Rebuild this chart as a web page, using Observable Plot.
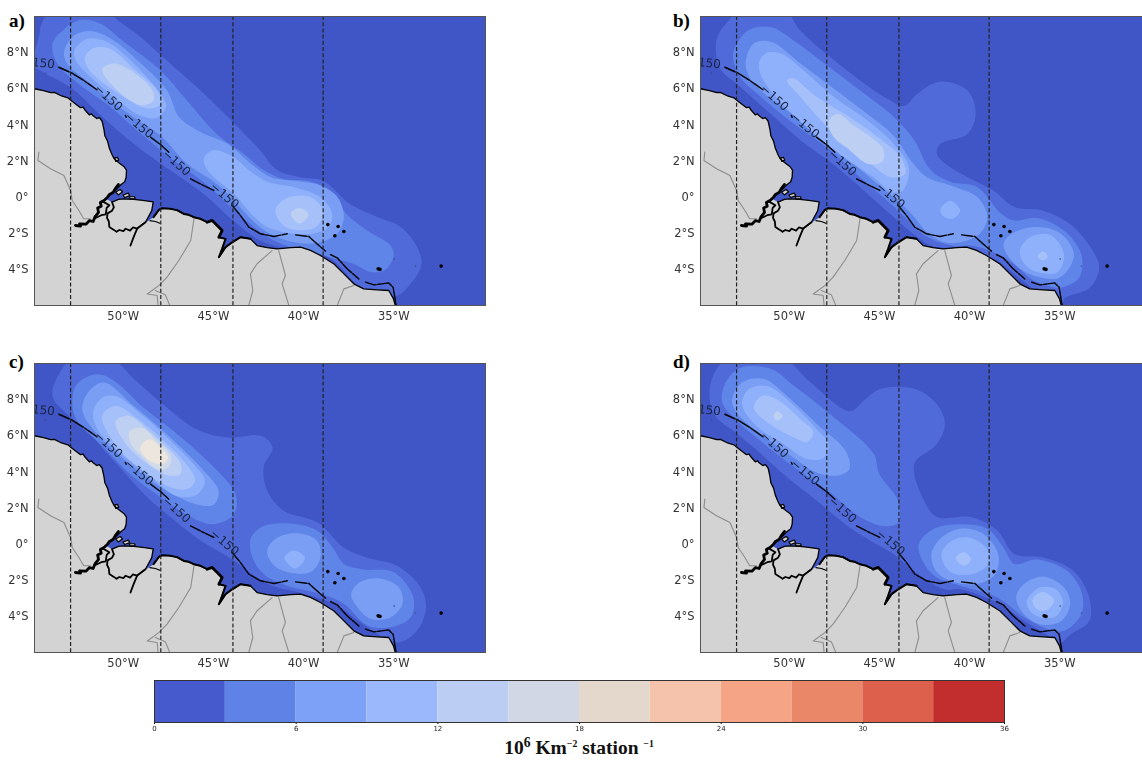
<!DOCTYPE html>
<html><head><meta charset="utf-8">
<script src="https://cdn.jsdelivr.net/npm/d3@7"></script>
<script src="https://cdn.jsdelivr.net/npm/@observablehq/plot@0.6"></script>
<style>
html,body{margin:0;padding:0;background:#fff;overflow:hidden;width:1142px;height:760px}
#page{position:relative;width:1142px;height:760px;overflow:hidden}
.panel{position:absolute;width:500px}
.panel svg{max-width:none;filter:blur(.35px)}
.tag{position:absolute;font:bold 19px "Liberation Serif",serif;color:#000;line-height:1}
#unit{position:absolute;left:354px;width:450px;top:737px;text-align:center;font:bold 19.5px "Liberation Serif",serif;color:#111;line-height:1.1}
#unit sup{font-size:70%;line-height:0}
#unit sup.s{font-size:50%}
</style></head><body><div id="page"></div>
<script>
// ---- scales and ticks ----
const lonDomain=[-55,-30], latDomain=[-6,10];
const lonTicks=[-50,-45,-40,-35], latTicks=[-4,-2,0,2,4,6,8];
const sectionLons=[-53,-48,-44,-39];
const mapLevels=[2.25,4.5,6.75,9,11.25,13.5,15.75,18];
const mapColors=["#4056c6","#506bd9","#5f85e8","#7a9ef4","#8fb1fb","#a6c1fa","#bdd0f3","#d3dae8","#ece6de"];
const legendEdges=[0,3,6,9,12,15,18,21,24,27,30,33,36];
const legendColors=["#4659cd","#5e82e6","#7ea1f8","#9cb8fd","#bbcdf3","#d2d7e6","#e4d8cd","#f5c3ab","#f5a585","#ea8768","#dd604c","#c22e2e"];
const legendTicks=[0,6,12,18,24,30,36];

// ---- base map (lon, lat) ----
const northCoast=[[-55.5,6.05],[-55,6],[-54.5,5.9],[-54.1,5.78],[-53.9,5.8],[-53.5,5.6],[-53.15,5.5],[-52.9,5.3],[-52.45,4.95],[-52.3,4.98],[-52.2,4.82],[-51.95,4.55],[-51.85,4.62],[-51.75,4.5],[-51.55,4.35],[-51.4,4.4],[-51.25,4.2],[-51.15,3.75],[-51.1,3.4],[-50.95,3.1],[-50.85,2.7],[-50.7,2.35],[-50.6,2.15],[-50.45,2],[-50.25,1.85],[-50.05,1.7],[-49.9,1.5],[-49.92,1.1],[-50,0.85],[-50.2,0.7],[-50.45,0.45],[-50.7,0.2],[-50.9,0.05],[-51,-0.1]];
const marajoNorth=[[-50.7,-0.28],[-50.35,-0.12],[-50.06,-0.1],[-49.5,-0.13],[-49,-0.18],[-48.42,-0.26],[-48.5,-0.75],[-48.85,-1.39],[-49.31,-1.74]];
const paraEastBank=[[-48.4,-1.11],[-48.1,-0.7],[-47.95,-0.62]];
const mainCoast=[[-47.46,-0.65],[-47.1,-0.72],[-46.72,-0.93],[-46.45,-0.98],[-46.17,-1.11],[-45.8,-1.2],[-45.43,-1.39],[-45.15,-1.29],[-44.87,-1.57],[-44.6,-1.85],[-44.78,-2.22],[-44.41,-2.31],[-44.6,-2.86],[-44.78,-3.33],[-44.41,-2.77],[-44.04,-2.5],[-43.58,-2.22],[-43.03,-2.31],[-42.66,-2.68],[-42.1,-2.8],[-41.55,-2.87],[-40.8,-2.8],[-40.25,-2.77],[-39.7,-2.95],[-39.15,-3.23],[-38.4,-3.7],[-37.85,-4.25],[-37.3,-4.8],[-36.75,-5.08],[-36,-5.13],[-35.36,-5.17],[-35.1,-5.63],[-35,-6]];
const landCorners=[[-35,-6.5],[-55.5,-6.5]];
const marajoSouth=[[-49.31,-1.74],[-49.55,-1.68],[-49.7,-1.85],[-49.95,-1.75],[-50.07,-1.88],[-50.3,-1.82],[-50.45,-1.92],[-50.62,-1.8],[-50.85,-1.65],[-50.88,-1.35],[-50.98,-1.15],[-50.95,-0.9],[-50.7,-0.75],[-50.6,-0.56],[-50.7,-0.28]];
const deltaWest=[[-52.73,-1.57],[-52.45,-1.6],[-52.5,-1.48],[-52.15,-1.5],[-51.95,-1.3],[-51.75,-1.35],[-51.65,-1.1],[-51.45,-0.85],[-51.5,-0.6],[-51.3,-0.5],[-51.35,-0.3],[-51.1,-0.15],[-50.95,0],[-50.85,0.15],[-50.65,0.25],[-50.5,0.5],[-50.35,0.7]];
const deltaInner=[[-51.7,-1.2],[-51.3,-1],[-51.05,-0.95],[-51,-0.6],[-50.85,-0.45],[-51.2,-0.25]];
const paraTail=[[-48.85,-1.39],[-49.31,-1.74],[-49.5,-2.2],[-49.68,-2.68]];
const paraBranch=[[-48.6,-1.3],[-48.3,-1.35],[-48.05,-1.45]];
const islandRings=[
 [[-50.55,2.18],[-50.4,2.2],[-50.33,2.05],[-50.5,1.98]],
 [[-50.5,0.28],[-50.25,0.42],[-50.12,0.3],[-50.35,0.12]],
 [[-50.1,0.12],[-49.8,0.22],[-49.72,0.08],[-50,-0.02]],
 [[-49.75,0.02],[-49.45,0.02],[-49.42,-0.1],[-49.7,-0.1]]
];
const borderA=[[-54.76,2.49],[-54.81,2.03],[-54.11,1.57],[-53.37,1.2],[-53,0.37],[-52.91,-0.19],[-52.54,-0.74],[-52.27,-1.2],[-51.9,-1.2]];
const borderB=[[-46.16,-1.2],[-46.34,-2.4],[-47,-3.51],[-47.65,-4.43],[-48.11,-4.9],[-48.75,-5.36],[-48.2,-5.45],[-48.15,-6]];
const borderB2=[[-48.3,-5.17],[-47.75,-5.4],[-47.5,-6]];
const borderC=[[-41.83,-2.96],[-42.66,-3.69],[-43.03,-4.25],[-42.9,-5.17],[-43.12,-6]];
const borderD=[[-41.46,-2.96],[-41.09,-4.34],[-41.27,-4.8],[-40.9,-6]];
const borderE=[[-37.3,-4.89],[-37.85,-5.08],[-38.22,-6]];
const isobathA=[[-53.65,7.19],[-52.91,6.86],[-52.27,6.46],[-51.53,5.94]];
const isobathB=[[-49.96,4.52],[-49.92,4.42]];
const isobathC=[[-48.57,3.32],[-48.02,2.91],[-47.55,2.49]];
const isobathD=[[-46.35,1.01],[-45.8,0.73],[-45.06,0.37]];
const isobathE=[[-44.04,-0.47],[-43.58,-1.02],[-43.12,-1.66],[-42.47,-2.03],[-41.73,-2.18],[-40.99,-2.03]];
const isobathF=[[-40.53,-2.09],[-39.79,-2.18],[-39.33,-2.59],[-38.87,-2.99]];
const isobathG=[[-38.59,-3.18],[-38.22,-3.36],[-37.67,-3.97],[-37.02,-4.53]];
const isobathH=[[-36.65,-4.71],[-36.19,-4.86],[-35.36,-4.75],[-35.12,-4.99],[-35.03,-5.54],[-34.95,-6]];
const isleLons=[-38.74,-38.17,-37.85,-38.35,-35.95,-35.85,-32.46];
const isleLats=[-1.52,-1.63,-1.9,-2.14,-3.97,-4,-3.82];
const faintIsleLons=[-35.06,-33.88,-54.39];
const faintIsleLats=[-3.42,-3.82,6.86];
const contourLabelLons=[-54.78,-50.9,-49.2,-47.13,-44.46];
const contourLabelLats=[7.44,5.5,3.97,1.9,0.09];
const contourLabelAngles=[6,42,40,42,40];

// ---- panel a density outlines (lon, lat) ----
const a1=[[-54.76,8.86],[-54.6,9.6],[-54.1,10.3],[-51,10.3],[-50.4,9.8],[-49.1,8.85],[-48,7.85],[-45.8,5.9],[-44,4.15],[-42.5,2.6],[-41.55,1.5],[-40.25,1.1],[-39,0.9],[-37.5,-0.4],[-36,-1.1],[-34.7,-1.65],[-33.8,-2.75],[-33.55,-3.7],[-34.15,-4.8],[-34.9,-5.45],[-35.6,-5.35],[-36.9,-5],[-38.75,-3.3],[-41.2,-2.8],[-42.5,-2.4],[-44,-1.3],[-45.4,0],[-46.9,1.1],[-48,1.85],[-49.5,2.95],[-51.3,4.5],[-52.9,6],[-54.5,6.9],[-55.05,7.3]];
const a2=[[-54,8.5],[-53.35,9.3],[-52.45,9.8],[-51.35,9.6],[-50.05,8.6],[-48,7],[-46.55,5.35],[-44.9,3.5],[-43.4,2.4],[-42.3,1.5],[-41.2,1],[-39.9,0.9],[-38.6,0.35],[-37.7,-0.95],[-36.55,-1.85],[-35.25,-2.7],[-35.1,-3.3],[-35.6,-4.05],[-36.35,-4.15],[-37.3,-3.7],[-38.4,-3.4],[-39.5,-3.05],[-40.6,-2.85],[-42.1,-2.2],[-44,-0.65],[-45.4,0.65],[-46.9,1.75],[-48,2.6],[-49.5,3.85],[-50.8,5],[-52.65,6.35],[-53.75,7.4]];
const a3=[[-53.35,8.1],[-52.8,8.95],[-51.9,9.2],[-50.8,8.8],[-49.1,7.4],[-47.65,5.9],[-47,4.45],[-45.8,3.6],[-44.3,2.95],[-43,1.85],[-41.9,1.1],[-40.6,0.9],[-39.15,0.65],[-38.2,0],[-37.85,-1.1],[-38.2,-2],[-39.15,-2.5],[-40.6,-2.5],[-42.1,-1.95],[-43.2,-1],[-44.1,0],[-45.05,0.85],[-46.55,1.85],[-48,3.4],[-49.1,4.15],[-50.8,5.35],[-52.25,6.55],[-53.2,7.4]];
const a4n=[[-52.8,8.1],[-52.1,8.75],[-51,8.6],[-49.5,7.4],[-48,5.7],[-47.7,5],[-48.2,4.4],[-49.1,4.5],[-50.6,5.55],[-52.1,6.85],[-52.7,7.55]];
const a4e=[[-45.6,2.2],[-45.05,2.6],[-43.95,2.2],[-43,1.4],[-42.1,0.85],[-40.6,0.55],[-39.15,0],[-38.5,-0.9],[-38.7,-1.65],[-39.5,-2],[-40.8,-2],[-42.1,-1.65],[-43,-0.9],[-43.95,0.2],[-45.05,1.1],[-45.5,1.65]];
const a5n=[[-52.2,7.75],[-51.7,8.25],[-50.8,8.2],[-49.5,7.1],[-48.2,5.9],[-48,5.15],[-48.75,4.9],[-50.6,5.9],[-52,7.1]];
const a5e=[[-41.65,-0.75],[-41,-0.05],[-39.7,0],[-39,-0.75],[-39.4,-1.65],[-41,-1.7]];
const a6n=[[-51.25,7.1],[-50.5,7.4],[-48.55,6.05],[-48.4,5.35],[-49.1,5.1],[-50.6,6.1]];
const a6e=[[-40.8,-0.9],[-40.25,-0.6],[-39.8,-1],[-40.35,-1.45]];

// ---- panel b ----
const b1=[[-54.15,8.5],[-53.9,9.2],[-53.25,10.05],[-53.25,10.4],[-50.4,10.4],[-49.45,9.2],[-46.85,7],[-44.65,5.45],[-43.7,5.05],[-43,5.7],[-41.7,6.4],[-40.2,5.9],[-39.75,4.6],[-40.2,3.5],[-41.7,2.95],[-41.9,2.4],[-41.3,1.75],[-40.2,1.1],[-38.75,0.35],[-37.6,-0.55],[-36,-0.75],[-34.5,-1.5],[-33.4,-2.75],[-32.9,-3.9],[-33.4,-5],[-34.75,-5.55],[-35.05,-5.9],[-36.15,-5.35],[-37.6,-4.25],[-38.75,-3.4],[-40.6,-2.85],[-42.05,-2.75],[-43,-2.2],[-44.3,-1.1],[-46.15,0.55],[-47.95,2.05],[-49.45,3.15],[-51.1,4.6],[-52.95,6.25],[-53.9,7.1]];
const b2=[[-53.2,7.85],[-52.9,8.65],[-52.25,9.3],[-51.1,9.4],[-49.8,8.65],[-48,7.3],[-46.15,5.9],[-44.3,4.45],[-43.15,3.15],[-42.25,1.5],[-41.15,0.85],[-39.65,0.55],[-38.35,-0.9],[-37.6,-1.3],[-36.35,-1.15],[-34.85,-1.85],[-33.9,-3.15],[-34,-4.45],[-34.95,-5],[-35.6,-4.95],[-36.7,-4.5],[-37.6,-3.7],[-38.75,-3.05],[-39.85,-2.7],[-40.95,-2.7],[-42.45,-2.2],[-43.35,-1.4],[-44.65,-0.2],[-46.15,1.1],[-47.95,2.7],[-49.8,4.05],[-51.65,5.55],[-52.8,6.65]];
const b3m=[[-52.5,7.45],[-52.05,8.5],[-51.1,8.6],[-49.45,7.4],[-47.6,6],[-45.75,4.6],[-44.3,3.4],[-43.2,1.85],[-42.45,1.1],[-41.15,0.65],[-39.65,0],[-39.1,-1.1],[-39.5,-2],[-40.6,-2.5],[-41.5,-2.5],[-42.45,-1.95],[-43.15,-1.1],[-43.9,-0.35],[-46.15,1.55],[-47.95,3.15],[-49.8,4.5],[-51.65,5.9],[-52.3,6.65]];
const b3s=[[-38.2,-2.6],[-37.6,-1.95],[-36.35,-1.65],[-35.05,-2],[-34.3,-3.15],[-34.65,-4.05],[-35.2,-4.5],[-36.5,-4.35],[-37.6,-3.7]];
const b4m=[[-51.75,7.45],[-51.4,7.95],[-50.55,7.95],[-49.1,6.85],[-47.6,5.55],[-45.75,4.25],[-44.3,2.95],[-43.45,1.65],[-43.8,0.35],[-44.45,0.3],[-45.4,1.1],[-47.05,2.2],[-49.1,3.85],[-50.95,5.7],[-51.65,6.75]];
const b4e=[[-41.7,-0.65],[-41.15,-0.2],[-40.6,-0.75],[-41.05,-1.2],[-41.6,-1]];
const b4s=[[-37.3,-2.95],[-36.7,-2.2],[-35.6,-2.1],[-34.85,-3.15],[-35.2,-4.15],[-36.35,-4.15],[-37.05,-3.7]];
const b5m=[[-50.2,6.45],[-49.9,6.6],[-48.55,5.55],[-46.85,4.5],[-45.4,3.5],[-43.9,2.2],[-43.65,1.3],[-44.45,1.1],[-45.75,2],[-47.6,3.5],[-49.45,5.55]];
const b5s=[[-36.3,-3.3],[-36,-3],[-35.75,-3.3],[-36,-3.5]];
const b6=[[-47.9,4.15],[-47.4,4.6],[-46.5,3.95],[-45.4,3.2],[-44.85,2.6],[-44.95,1.95],[-45.75,1.85],[-46.85,2.7],[-47.6,3.3]];

// ---- panel c ----
const c1=[[-54,8.2],[-53.65,9.4],[-53,10.15],[-50.6,10.15],[-49.5,9.15],[-47.65,7.55],[-46,6.35],[-44.3,5.9],[-42.45,6],[-41.8,5.35],[-42.3,4.25],[-42.1,2.95],[-41.2,1.85],[-39.3,1.2],[-37.85,-0.2],[-36.55,-0.75],[-34.9,-1.2],[-33.6,-2.4],[-33.3,-3.5],[-33.8,-4.8],[-34.9,-5.45],[-36.55,-4.6],[-38.4,-3.3],[-40.25,-2.7],[-42.1,-2.2],[-43.95,-0.9],[-45.8,0.2],[-47.65,1.65],[-48.75,2.6],[-50.4,4.4],[-52.1,6.25],[-53.2,7.2]];
const c2n=[[-52.9,7.75],[-52.65,8.85],[-51.55,9.4],[-50.6,9.05],[-48.95,7.55],[-47.1,6.1],[-44.85,4.05],[-43.85,2.75],[-43.95,1.65],[-45.05,1.1],[-46.35,1.5],[-48,2.6],[-49.5,3.7],[-51.35,5.55],[-52.65,6.85]];
const c2e=[[-43,0.35],[-42.3,1],[-41,1.15],[-39.35,0.75],[-38.4,-0.3],[-37.85,-1.1],[-36.75,-1.4],[-35.1,-1.55],[-34,-2.95],[-34.15,-4.05],[-35.25,-4.6],[-36.55,-4.5],[-37.85,-3.3],[-39.15,-2.75],[-41,-2.3],[-42.3,-1.65],[-42.95,-0.65]];
const c3n=[[-52.35,7.65],[-51.95,8.5],[-51.15,8.95],[-49.5,7.65],[-47.85,6.25],[-45.6,4.05],[-44.8,2.95],[-45.05,2.2],[-46,2.2],[-48,3.15],[-49.5,4.25],[-51.35,5.9],[-52.25,7.1]];
const c3e=[[-42.1,-0.35],[-41.55,0.35],[-40.45,0.6],[-39.35,0.2],[-39.15,-0.75],[-39.7,-1.55],[-41,-1.55],[-41.8,-1.1]];
const c3s=[[-37.45,-2.75],[-36.95,-2.1],[-35.85,-1.9],[-34.8,-2.4],[-34.6,-3.3],[-35.25,-4.05],[-36.35,-4.15],[-37.1,-3.5]];
const c4n=[[-51.75,7.3],[-51.25,8.1],[-50.5,8.2],[-49.1,7.2],[-47.65,5.9],[-46.15,4.4],[-45.55,3.5],[-46,2.75],[-47.1,2.65],[-48.55,3.7],[-50.2,5],[-51.5,6.35]];
const c4e=[[-41.15,-0.75],[-40.65,-0.35],[-40,-0.75],[-40.55,-1.35]];
const c5=[[-51.25,7.1],[-50.5,7.65],[-49.1,6.8],[-47.65,5.55],[-46.45,4.25],[-46.1,3.5],[-46.55,3.05],[-47.45,3.15],[-48.95,4.05],[-50.4,5.35]];
const c6=[[-50.5,6.8],[-49.75,7.1],[-48.75,6.35],[-47.45,5.15],[-46.9,4.45],[-46.9,3.9],[-47.55,3.8],[-48.75,4.45],[-50.05,5.7]];
const c7=[[-49.75,6.2],[-49.1,6.45],[-48.2,5.7],[-47.45,4.9],[-47.55,4.25],[-48.2,4.15],[-49.1,4.9],[-49.65,5.55]];
const c8=[[-49.15,5.35],[-48.65,5.8],[-48,5.35],[-47.6,4.8],[-47.85,4.45],[-48.4,4.5],[-48.95,4.9]];

// ---- panel d ----
const d1=[[-54.45,7.75],[-54.45,8.85],[-54.1,9.7],[-53.5,10.25],[-50.4,10.25],[-48.9,8.95],[-46.7,7.35],[-45.95,7.95],[-45,8.6],[-43.15,8.6],[-41.9,7.75],[-41.45,6.65],[-41.9,5.55],[-43.15,4.45],[-42.6,2.4],[-41.9,1.5],[-40,1.5],[-38.55,0.75],[-37.6,-0.55],[-35.95,-0.75],[-34.3,-1.5],[-33.45,-2.95],[-33.45,-4.25],[-34.5,-5],[-35.05,-5.45],[-35.8,-5],[-37.05,-4.25],[-38.75,-3.15],[-40.6,-2.5],[-41.5,-2.5],[-43.15,-1.5],[-44.3,-0.55],[-45.6,0.2],[-46.85,1],[-48.55,2.4],[-50.2,3.7],[-52.05,5.35],[-53.15,6.25],[-54.1,7]];
const d2n=[[-53.8,7.85],[-53.6,8.95],[-52.8,9.75],[-51.1,9.7],[-49.8,8.75],[-47.95,7.3],[-45.4,5],[-45.1,3.9],[-44.05,2.4],[-44.05,1.2],[-44.85,1],[-46.15,1.5],[-47.95,2.95],[-49.8,4.25],[-51.65,5.7],[-52.95,6.8]];
const d2e=[[-42.9,0],[-42.05,0.85],[-40.6,1.1],[-39.1,0.85],[-38.2,-0.2],[-37.6,-1.1],[-36.35,-0.85],[-34.65,-1.5],[-33.85,-2.75],[-33.9,-3.9],[-34.85,-4.8],[-35.75,-4.7],[-37.05,-4.05],[-38.55,-2.95],[-40.6,-2.3],[-41.9,-1.85],[-42.6,-1.1]];
const d3n=[[-53.25,7.95],[-52.7,8.95],[-51.5,9.15],[-50.2,8.2],[-48.55,6.65],[-46.95,5.15],[-46.75,4.15],[-47.4,3.8],[-48.55,3.95],[-49.85,4.8],[-51.65,6.1],[-52.85,7.1]];
const d3e=[[-42.2,-0.55],[-41.65,0.35],[-40.6,0.85],[-39.3,0.55],[-38.5,-0.55],[-38.65,-1.65],[-39.65,-2.2],[-40.95,-2.1],[-41.9,-1.55]];
const d3s=[[-37.5,-2.95],[-37.05,-2.2],[-35.95,-1.8],[-34.85,-2.4],[-34.5,-3.3],[-35,-4.25],[-36.15,-4.45],[-37.05,-3.9]];
const d4n=[[-52.7,7.75],[-52.3,8.6],[-51.3,8.75],[-49.8,7.65],[-48.55,6.35],[-47.9,5.55],[-48.15,4.8],[-49.05,4.7],[-50.4,5.55],[-51.9,6.55]];
const d4e=[[-41.65,-0.55],[-41.05,0.2],[-40.05,0.35],[-39.05,-0.35],[-39.05,-1.1],[-39.9,-1.65],[-41.15,-1.55]];
const d4s=[[-36.9,-3.1],[-36.2,-2.4],[-35.3,-2.5],[-34.9,-3.2],[-35.3,-4],[-36.3,-4],[-36.8,-3.6]];
const d5n=[[-52.05,7.55],[-51.6,8.2],[-50.75,8],[-49.45,6.9],[-48.75,6.2],[-49.1,5.65],[-49.8,5.9],[-51.3,6.75]];
const d5e=[[-40.85,-0.75],[-40.4,-0.45],[-40,-0.85],[-40.4,-1.2]];
const d5s=[[-36.6,-3.1],[-36.05,-2.65],[-35.4,-3.1],[-35.8,-3.65],[-36.35,-3.6]];
const d6=[[-50.95,7.1],[-50.75,7.35],[-50.45,7.1],[-50.75,6.85]];

// outlines per panel, lowest band first: [band number, outline]
const panelA=[[1,a1],[2,a2],[3,a3],[4,a4n],[4,a4e],[5,a5n],[5,a5e],[6,a6n],[6,a6e]];
const panelB=[[1,b1],[2,b2],[3,b3m],[3,b3s],[4,b4m],[4,b4e],[4,b4s],[5,b5m],[5,b5s],[6,b6]];
const panelC=[[1,c1],[2,c2n],[2,c2e],[3,c3n],[3,c3e],[3,c3s],[4,c4n],[4,c4e],[5,c5],[6,c6],[7,c7],[8,c8]];
const panelD=[[1,d1],[2,d2n],[2,d2e],[3,d3n],[3,d3e],[3,d3s],[4,d4n],[4,d4e],[4,d4s],[5,d5n],[5,d5e],[5,d5s],[6,d6]];

// ---- build ----
const landRing=[...northCoast,...marajoNorth,...paraEastBank,...mainCoast,...landCorners];
const coastThin=[northCoast,marajoNorth,paraEastBank,mainCoast];
const coastBold=[paraEastBank.concat(mainCoast.slice(0,7)),mainCoast.slice(10,18)];
const coastHeavy=[deltaWest,mainCoast.slice(6,11)];
const rows=(list,id)=>list.flatMap((l,i)=>l.map(p=>({lon:p[0],lat:p[1],k:id+i})));
const bandRows=list=>list.flatMap(([lev,pts],i)=>pts.map(p=>({lon:p[0],lat:p[1],k:i,v:mapLevels[lev-1]})));
const fmtLon=d=>`${-d}°W`;
const fmtLat=d=>d===0?"0°":d>0?`${d}°N`:`${-d}°S`;
const clip={clip:"frame"};
const lineOf=(list,o)=>Plot.line(rows(list,"s"),{x:"lon",y:"lat",z:"k",fill:"none",curve:"linear",...clip,...o});

function makePanel(list,tag,left,top,tagTop){
  const svg=Plot.plot({
    width:500,height:330,marginLeft:34,marginRight:15,marginTop:16,marginBottom:25,
    x:{domain:lonDomain,label:null},y:{domain:latDomain,label:null},
    color:{type:"threshold",domain:mapLevels,range:mapColors},
    style:{fontFamily:"'DejaVu Sans',sans-serif",background:"transparent"},
    marks:[
      Plot.frame({fill:mapColors[0],stroke:"none"}),
      Plot.line(bandRows(list),{x:"lon",y:"lat",z:"k",fill:"v",stroke:"none",curve:"catmull-rom-closed",...clip}),
      Plot.line(landRing.map(p=>({lon:p[0],lat:p[1]})),{x:"lon",y:"lat",fill:"#d3d3d3",stroke:"none",...clip}),
      lineOf([borderA,borderB,borderB2,borderC,borderD,borderE],{stroke:"#8d8d8d",strokeWidth:1.1}),
      lineOf(islandRings,{stroke:"#000",strokeWidth:1.2,fill:"#d3d3d3",curve:"linear-closed"}),
      lineOf(coastThin,{stroke:"#000",strokeWidth:1.3}),
      lineOf([marajoSouth,paraTail,deltaInner],{stroke:"#000",strokeWidth:1.8}),
      lineOf(coastBold,{stroke:"#000",strokeWidth:2}),
      lineOf(coastHeavy,{stroke:"#000",strokeWidth:2.8}),
      lineOf([paraBranch],{stroke:"#000",strokeWidth:1.2}),
      lineOf([isobathA,isobathB,isobathC,isobathD,isobathE,isobathF,isobathG,isobathH],{stroke:"#000",strokeWidth:1.4,strokeDasharray:"11,1.5,3,1.2"}),
      Plot.dot(isleLons.map((d,i)=>({lon:d,lat:isleLats[i]})),{x:"lon",y:"lat",r:1.8,fill:"#000",stroke:"none"}),
      Plot.dot(faintIsleLons.map((d,i)=>({lon:d,lat:faintIsleLats[i]})),{x:"lon",y:"lat",r:.9,fill:"#3a4a80",stroke:"none",fillOpacity:.7}),
      Plot.ruleX(sectionLons,{stroke:"#222",strokeWidth:1.2,strokeDasharray:"4,2.2"}),
      Plot.text(contourLabelLons.map((d,i)=>({lon:d,lat:contourLabelLats[i],a:contourLabelAngles[i]})),{x:"lon",y:"lat",text:()=>"−150",rotate:"a",fontSize:12,fill:"#1a2440",...clip}),
      Plot.axisX({ticks:lonTicks,tickSize:0,tickPadding:6,dx:-1.5,tickFormat:fmtLon,fontSize:11.5,fill:"#333",label:null}),
      Plot.axisY({ticks:latTicks,tickSize:0,tickPadding:6,tickFormat:fmtLat,fontSize:11.5,fill:"#333",label:null}),
      Plot.frame({stroke:"#555",strokeWidth:1})
    ]
  });
  const box=document.createElement("div");
  box.className="panel";box.style.left=left+"px";box.style.top=top+"px";
  box.appendChild(svg);
  const t=document.createElement("div");
  t.className="tag";t.textContent=tag;t.style.left=(left?7:9)+"px";t.style.top=tagTop+"px";
  box.appendChild(t);
  document.getElementById("page").appendChild(box);
}
makePanel(panelA,"a)",0,0,11);
makePanel(panelB,"b)",666,0,11);
makePanel(panelC,"c)",0,347,5);
makePanel(panelD,"d)",666,347,5);

// colour bar
const legend=Plot.plot({
  width:890,height:60,marginLeft:20,marginRight:20,marginTop:1,marginBottom:17,
  x:{domain:[0,36],label:null},y:{domain:[0,1],axis:null},
  style:{fontFamily:"'DejaVu Sans',sans-serif",background:"transparent"},
  marks:[
    Plot.rect(legendColors.map((c,i)=>({a:legendEdges[i],b:legendEdges[i+1],c})),{x1:"a",x2:"b",y1:0,y2:1,fill:"c"}),
    Plot.axisX({ticks:legendTicks,tickSize:2,tickPadding:2,fontSize:7,fill:"#222",label:null}),
    Plot.frame({stroke:"#333",strokeWidth:1,fill:"none"})
  ]
});
const lb=document.createElement("div");lb.className="panel";lb.style.width="890px";lb.style.left="134px";lb.style.top="679px";lb.appendChild(legend);
document.getElementById("page").appendChild(lb);
const u=document.createElement("div");u.id="unit";
u.innerHTML='10<sup>6</sup> Km<sup class="s">−2</sup> station <sup class="s">−1</sup>';
document.getElementById("page").appendChild(u);
</script></body></html>
